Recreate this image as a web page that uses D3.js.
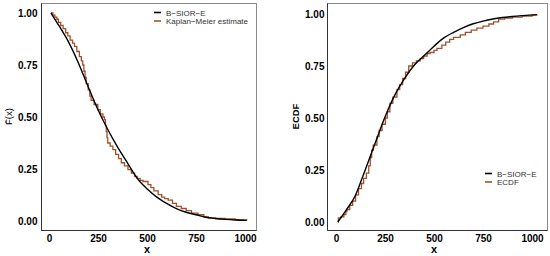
<!DOCTYPE html>
<meta charset="utf-8">
<script src="https://d3js.org/d3.v7.min.js"></script>
<style>
  body { margin: 0; background: #fff; }
  .tick text { font-family: "Liberation Sans", Arial, sans-serif; font-weight: bold; font-size: 10px; fill: #000; }
  .legend text { font-family: "Liberation Sans", Arial, sans-serif; font-size: 8px; fill: #333; }
</style>
<div id="chart"></div>
<script>

// x ticks and y ticks shared by both panels
var xTicks = [0, 250, 500, 750, 1000];
var yTicks = [0, 0.25, 0.5, 0.75, 1];

// left panel: fitted B-SIOR-E survival curve
var survX = [10, 50, 100, 150, 200, 250, 300, 350, 400, 450, 500, 550, 600, 650, 700, 750, 800, 850, 900, 950, 1009];
var survY = [1.0, 0.94, 0.86, 0.76, 0.645, 0.535, 0.44, 0.355, 0.28, 0.205, 0.155, 0.115, 0.085, 0.06, 0.042, 0.03, 0.018, 0.012, 0.008, 0.005, 0.003];

// left panel: Kaplan-Meier steps
var kmX = [10, 20, 30, 40, 48, 60, 72, 85, 96, 108, 120, 130, 142, 155, 165, 172, 178, 184, 190, 200, 208, 215, 230, 249, 262, 275, 283, 288, 292, 296, 300, 312, 326, 340, 355, 369, 385, 403, 420, 437, 450, 465, 480, 505, 520, 535, 557, 575, 590, 608, 630, 650, 675, 700, 727, 760, 790, 813, 850, 900, 950, 980, 1009];
var kmY = [1.0, 0.99, 0.98, 0.97, 0.955, 0.94, 0.925, 0.905, 0.89, 0.87, 0.855, 0.84, 0.815, 0.79, 0.77, 0.75, 0.72, 0.69, 0.66, 0.63, 0.6, 0.58, 0.56, 0.535, 0.515, 0.5, 0.487, 0.46, 0.43, 0.4, 0.375, 0.36, 0.343, 0.32, 0.3, 0.28, 0.265, 0.247, 0.23, 0.215, 0.205, 0.195, 0.19, 0.175, 0.16, 0.145, 0.127, 0.115, 0.108, 0.1, 0.085, 0.07, 0.06, 0.05, 0.038, 0.03, 0.02, 0.015, 0.012, 0.01, 0.007, 0.005, 0.003];

// right panel: fitted B-SIOR-E cdf
var cdfX = [9, 50, 100, 124, 150, 200, 250, 300, 350, 400, 450, 500, 550, 600, 650, 700, 750, 800, 850, 900, 950, 1025];
var cdfY = [0.0, 0.055, 0.13, 0.1875, 0.252, 0.38, 0.505, 0.61, 0.69, 0.755, 0.8, 0.845, 0.885, 0.912, 0.935, 0.953, 0.966, 0.976, 0.983, 0.988, 0.992, 0.997];

// right panel: empirical cdf steps
var ecdfX = [9, 12, 25, 40, 50, 56, 70, 85, 100, 115, 130, 141, 155, 167, 175, 182, 190, 209, 220, 235, 252, 262, 275, 290, 311, 325, 340, 355, 371, 390, 410, 430, 447, 465, 480, 500, 515, 540, 560, 580, 600, 634, 660, 690, 719, 750, 780, 804, 830, 860, 900, 950, 1000, 1025];
var ecdfY = [0.0, 0.02, 0.025, 0.035, 0.05, 0.06, 0.08, 0.1, 0.13, 0.16, 0.185, 0.21, 0.235, 0.27, 0.31, 0.345, 0.37, 0.41, 0.44, 0.47, 0.5, 0.53, 0.57, 0.6, 0.636, 0.66, 0.69, 0.72, 0.75, 0.765, 0.775, 0.785, 0.797, 0.81, 0.815, 0.825, 0.835, 0.85, 0.865, 0.878, 0.888, 0.9, 0.912, 0.922, 0.932, 0.942, 0.952, 0.962, 0.975, 0.98, 0.985, 0.99, 0.995, 0.997];

var fitColor = "#000000";
var stepColor = "#a0522d";

var svg = d3.select("#chart")
  .append("svg")
    .attr("width", 550)
    .attr("height", 256);

function zip(xs, ys) {
  return xs.map(function(d, i) { return [d, ys[i]]; });
}

function drawPanel(p) {
  var x = d3.scaleLinear().domain([0, 1000]).range(p.xRange);
  var y = d3.scaleLinear().domain([0, 1]).range(p.yRange);
  var g = svg.append("g");

  // panel frame: grey box, darker left and bottom axis lines
  g.append("rect")
    .attr("x", p.box[0] + 0.5).attr("y", p.box[1] + 0.5)
    .attr("width", p.box[2] - p.box[0]).attr("height", p.box[3] - p.box[1])
    .attr("fill", "none").attr("stroke", "#8a8a8a").attr("stroke-width", 1);

  g.append("g")
    .attr("transform", "translate(0," + (p.box[3] + 0.5) + ")")
    .call(d3.axisBottom(x).tickValues(xTicks).tickSize(0).tickPadding(4).tickFormat(d3.format("d")))
    .call(function(a) {
      a.select(".domain").attr("d", "M" + (p.box[0] + 0.5) + ",0H" + (p.box[2] + 0.5)).attr("stroke", "#333");
    });

  g.append("g")
    .attr("transform", "translate(" + (p.box[0] + 0.5) + ",0)")
    .call(d3.axisLeft(y).tickValues(yTicks).tickSize(0).tickPadding(p.yPad).tickFormat(d3.format(".2f")))
    .call(function(a) {
      a.select(".domain").attr("d", "M0," + (p.box[1] + 0.5) + "V" + (p.box[3] + 0.5)).attr("stroke", "#333");
    });

  var line = d3.line().x(function(d) { return x(d[0]); }).y(function(d) { return y(d[1]); });

  // empirical steps
  g.append("path")
    .datum(zip(p.stepX, p.stepY))
    .attr("d", line.curve(d3.curveStepAfter))
    .attr("fill", "none").attr("stroke", stepColor).attr("stroke-width", 1.3);

  // fitted curve
  g.append("path")
    .datum(zip(p.fitX, p.fitY))
    .attr("d", line.curve(d3.curveMonotoneX))
    .attr("fill", "none").attr("stroke", fitColor).attr("stroke-width", 1.4);

  // axis titles
  g.append("text")
    .attr("x", (p.xRange[0] + p.xRange[1]) / 2).attr("y", 253)
    .attr("text-anchor", "middle")
    .style("font-family", "Liberation Sans, Arial, sans-serif").style("font-weight", "bold").style("font-size", "11px")
    .text("x");

  g.append("text")
    .attr("transform", "translate(" + p.yTitleX + "," + ((p.box[1] + p.box[3]) / 2) + ") rotate(-90)")
    .attr("text-anchor", "middle")
    .style("font-family", "Liberation Sans, Arial, sans-serif").style("font-weight", p.yTitleWeight).style("font-size", "9.5px")
    .text(p.yTitle);

  // legend
  var legend = g.append("g").attr("class", "legend")
    .attr("transform", "translate(" + p.legend[0] + "," + p.legend[1] + ")");

  var items = legend.selectAll("g")
    .data(p.legendLabels)
    .enter()
    .append("g")
    .attr("transform", function(d, i) { return "translate(0," + i * 8.5 + ")"; });

  items.append("line")
    .attr("x1", 0).attr("x2", 7).attr("y1", 0).attr("y2", 0)
    .attr("stroke", function(d, i) { return i == 0 ? fitColor : stepColor; })
    .attr("stroke-width", 1.6);

  items.append("text")
    .attr("x", 12).attr("y", 3)
    .text(function(d) { return d; });
}

drawPanel({
  box: [41, 3, 256, 230],
  xRange: [49, 245],
  yRange: [221, 13],
  yPad: 4,
  fitX: survX, fitY: survY,
  stepX: kmX, stepY: kmY,
  yTitle: "F\u0304(x)",
  yTitleX: 12,
  yTitleWeight: "normal",
  legend: [154, 12.5],
  legendLabels: ["B\u2212SIOR\u2212E", "Kaplan\u2212Meier estimate"]
});

drawPanel({
  box: [327, 3, 547, 230],
  xRange: [336, 532],
  yRange: [222, 14],
  yPad: 3,
  fitX: cdfX, fitY: cdfY,
  stepX: ecdfX, stepY: ecdfY,
  yTitle: "ECDF",
  yTitleX: 299,
  yTitleWeight: "bold",
  legend: [485, 173.5],
  legendLabels: ["B\u2212SIOR\u2212E", "ECDF"]
});

</script>
